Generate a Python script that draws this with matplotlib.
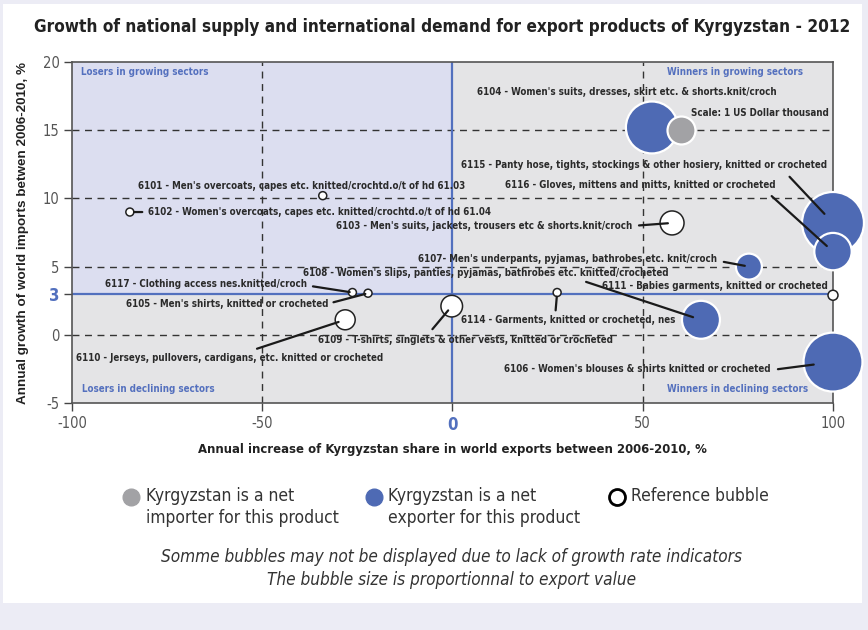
import matplotlib
matplotlib.use('Agg')
import matplotlib.pyplot as plt
from matplotlib import font_manager
from matplotlib.patches import Rectangle
from matplotlib.lines import Line2D
import numpy as np

# ---------------------------------------------------------------------
# Data
# ---------------------------------------------------------------------
codes = ['6115', '6106', '6104', '6108', '6116', '6107', '6103', '6109',
         '6110', '6111', '6101', '6102', '6105', '6114', '6117']
names = [
    "Panty hose, tights, stockings & other hosiery, knitted or crocheted",
    "Women's blouses & shirts knitted or crocheted",
    "Women's suits, dresses, skirt etc. & shorts.knit/croch",
    "Women's slips, panties, pyjamas, bathrobes etc. knitted/crocheted",
    "Gloves, mittens and mitts, knitted or crocheted",
    "Men's underpants, pyjamas, bathrobes etc. knit/croch",
    "Men's suits, jackets, trousers etc & shorts.knit/croch",
    "T-shirts, singlets & other vests, knitted or crocheted",
    "Jerseys, pullovers, cardigans, etc. knitted or crocheted",
    "Babies garments, knitted or crocheted",
    "Men's overcoats, capes etc. knitted/crochtd.o/t of hd 61.03",
    "Women's overcoats, capes etc. knitted/crochtd.o/t of hd 61.04",
    "Men's shirts, knitted or crocheted",
    "Garments, knitted or crocheted, nes",
    "Clothing access nes.knitted/croch",
]
# annual increase of Kyrgyzstan share in world exports, %
share_growth = [100, 100, 52.4, 65.3, 100, 77.9, 57.7, -0.2,
                -28.2, 100, -34.1, -84.8, -22.2, 27.5, -26.3]
# annual growth of world imports, %
world_growth = [8.2, -2.0, 15.2, 1.1, 6.1, 5.0, 8.2, 2.1,
                1.1, 2.9, 10.2, 9.0, 3.05, 3.1, 3.1]
# export value, US Dollar thousand
export_value = [9600, 8700, 6760, 3610, 3500, 1690, 1440, 1170,
                1000, 250, 160, 160, 160, 160, 160]
net_exporter = [True, True, True, True, True, True, False, False,
                False, False, False, False, False, False, False]

scale_point = (60, 15)
scale_value = 1960

x_ticks = [-100, -50, 0, 50, 100]
y_ticks = [-5, 0, 3, 5, 10, 15, 20]
world_avg = 3

# ---------------------------------------------------------------------
# Label layout: offset (px) of text from bubble, alignment, line anchor
# ---------------------------------------------------------------------
LAYOUT = {
    '6101': (-21, 10, 'center', None, 0, 0),
    '6102': (18, 0, 'left', (0, 0.5), 2, 3),
    '6103': (-40, -3, 'right', (1, 0.5), 3, 3),
    '6104': (-25, 35, 'center', None, 0, 0),
    '6105': (-40, -11, 'right', (1, 0.55), 2, 2),
    '6106': (-62, -7, 'right', (1, 0.4), 3, 14),
    '6107': (-32, 8, 'right', (1, 0.3), 3, 3),
    '6108': (-215, 47, 'center', (0.74, 0), 3, 6),
    '6109': (14, -34, 'center', (0.37, 1), 3, 4),
    '6110': (-116, -38, 'center', (0.55, 1), 3, 5),
    '6111': (-5, 9, 'right', None, 0, 0),
    '6114': (11, -27, 'center', (0.44, 1), 1, 3),
    '6115': (-189, 58, 'center', (0.88, 0), 4, 9),
    '6116': (-193, 67, 'center', (0.96, 0), 4, 6),
    '6117': (-45, 9, 'right', (1, 0.3), 2, 2),
}

BLUE = '#4E6AB4'
LINE_BLUE = '#5270BE'
GREY = '#A2A2A5'
DARK = '#222222'

available = {f.name for f in font_manager.fontManager.ttflist}
NARROW = 'Liberation Sans Narrow' if 'Liberation Sans Narrow' in available else 'DejaVu Sans'
SANS = 'Liberation Sans' if 'Liberation Sans' in available else 'DejaVu Sans'
plt.rcParams['font.family'] = [NARROW, 'DejaVu Sans']
plt.rcParams['font.stretch'] = 'condensed'

# size in pt^2 from export value (radius ~ sqrt(value))
def bubble_size(v):
    return np.asarray(v) * 0.207


fig = plt.figure(figsize=(8.68, 6.3), dpi=100, facecolor='#ECECF5')
fig.add_artist(Rectangle((3 / 868, 1 - 603 / 630), 859 / 868, 599 / 630,
                         transform=fig.transFigure, facecolor='white',
                         edgecolor='none', zorder=0))

ax = fig.add_axes([72 / 868, 1 - 403 / 630, 761 / 868, 341 / 630])
ax.set_xlim(-100, 100)
ax.set_ylim(-5, 20)
ax.set_facecolor('#E4E4E6')
ax.add_patch(Rectangle((-100, world_avg), 100, 20 - world_avg,
                       facecolor='#DCDEF0', edgecolor='none', zorder=0))

for yv in [0, 5, 10, 15]:
    ax.axhline(yv, color='#333333', lw=1, ls=(0, (5, 4)), zorder=1)
for xv in [-50, 50]:
    ax.axvline(xv, color='#333333', lw=1, ls=(0, (5, 4)), zorder=1)
ax.axhline(world_avg, color=LINE_BLUE, lw=1.6, zorder=1.5)
ax.axvline(0, color=LINE_BLUE, lw=1.6, zorder=1.5)

for s in ax.spines.values():
    s.set_color('#555555')
    s.set_linewidth(1.2)

ax.set_xticks(x_ticks)
ax.set_yticks(y_ticks)
ax.set_xticklabels([str(t) for t in x_ticks])
ax.set_yticklabels([str(t) for t in y_ticks])
ax.tick_params(direction='out', length=6, width=1, color='#444444',
               labelsize=10.5, labelcolor='#555555', pad=3)
for lbl in ax.get_xticklabels():
    if lbl.get_text() == '0':
        lbl.set_color(LINE_BLUE)
        lbl.set_fontweight('bold')
        lbl.set_fontsize(12)
for lbl in ax.get_yticklabels():
    if lbl.get_text() == str(world_avg):
        lbl.set_color(LINE_BLUE)
        lbl.set_fontweight('bold')
        lbl.set_fontsize(12)

# bubbles
colors = [BLUE if e else 'white' for e in net_exporter]
edges = ['white' if e else DARK for e in net_exporter]
ax.scatter(share_growth, world_growth, s=bubble_size(export_value), c=colors,
           edgecolors=edges, linewidths=[1.6 if e else 1.1 for e in net_exporter],
           zorder=3, clip_on=False)
ax.scatter([scale_point[0]], [scale_point[1]], s=bubble_size([scale_value]),
           c=GREY, edgecolors='white', linewidths=1.6, zorder=3, clip_on=False)

label_font = dict(fontsize=7.0, fontweight='bold', color='#2A2A2A')
for code, name, x, y in zip(codes, names, share_growth, world_growth):
    dx, dy, ha, rel, sa, sb = LAYOUT[code]
    sep = '- ' if code == '6107' else ' - '
    kw = {}
    if rel is not None:
        kw['arrowprops'] = dict(arrowstyle='-', color='#1A1A1A', lw=1.6,
                                relpos=rel, shrinkA=sa, shrinkB=sb)
    ax.annotate(code + sep + name, xy=(x, y), xytext=(dx, dy),
                textcoords='offset pixels', ha=ha, va='center',
                annotation_clip=False, zorder=4, **label_font, **kw)

ax.annotate('Scale: 1 US Dollar thousand', xy=scale_point, xytext=(10, 17),
            textcoords='offset pixels', ha='left', va='center', zorder=4,
            **label_font)

quad = dict(fontsize=7.0, fontweight='bold', color='#5470BE', zorder=4)
ax.text(0.012, 0.97, 'Losers in growing sectors', transform=ax.transAxes,
        ha='left', va='center', **quad)
ax.text(0.96, 0.97, 'Winners in growing sectors', transform=ax.transAxes,
        ha='right', va='center', **quad)
ax.text(0.013, 0.04, 'Losers in declining sectors', transform=ax.transAxes,
        ha='left', va='center', **quad)
ax.text(0.967, 0.04, 'Winners in declining sectors', transform=ax.transAxes,
        ha='right', va='center', **quad)

ax.set_xlabel('Annual increase of Kyrgyzstan share in world exports between 2006-2010, %',
              fontsize=9.4, fontweight='bold', color='#222222', labelpad=7)
ax.set_ylabel('Annual growth of world imports betwen 2006-2010, %',
              fontsize=9.7, fontweight='bold', color='#222222',
              family=[SANS, 'DejaVu Sans'], labelpad=10)

fig.text(442 / 868, 1 - 27 / 630,
         'Growth of national supply and international demand for export products of Kyrgyzstan - 2012',
         ha='center', va='center', fontsize=12.3, fontweight='bold', color='#222222')

# legend
leg_font = dict(fontsize=12.5, color='#333333', va='top', ha='left', linespacing=1.3)
fig.add_artist(Line2D([131 / 868], [1 - 497 / 630], marker='o', ms=12,
                      color=GREY, mec=GREY, ls='none', transform=fig.transFigure))
fig.text(146 / 868, 1 - 487 / 630,
         'Kyrgyzstan is a net\nimporter for this product', **leg_font)
fig.add_artist(Line2D([374 / 868], [1 - 497 / 630], marker='o', ms=12,
                      color=BLUE, mec=BLUE, ls='none', transform=fig.transFigure))
fig.text(388 / 868, 1 - 487 / 630,
         'Kyrgyzstan is a net\nexporter for this product', **leg_font)
fig.add_artist(Line2D([617 / 868], [1 - 497 / 630], marker='o', ms=11.5,
                      mfc='white', mec='black', mew=2, ls='none',
                      transform=fig.transFigure))
fig.text(631 / 868, 1 - 487 / 630, 'Reference bubble', **leg_font)

note = dict(fontsize=12.3, color='#333333', style='italic', ha='center', va='center')
fig.text(452 / 868, 1 - 557 / 630,
         'Somme bubbles may not be displayed due to lack of growth rate indicators', **note)
fig.text(452 / 868, 1 - 580 / 630,
         'The bubble size is proportionnal to export value', **note)

fig.savefig('out.png', dpi=100, facecolor=fig.get_facecolor())
